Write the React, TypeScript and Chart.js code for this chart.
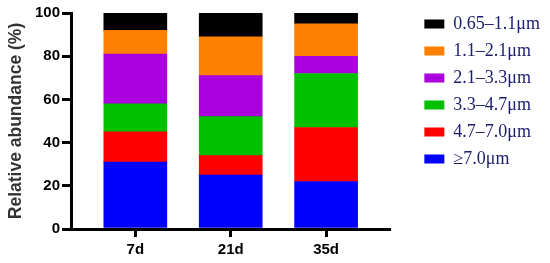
import React, { useEffect, useRef } from "react";
import { Chart, registerables } from "chart.js";

Chart.register(...registerables);

const categories = ["7d", "21d", "35d"];
const seriesLabels = ["≥7.0μm", "4.7–7.0μm", "3.3–4.7μm", "2.1–3.3μm", "1.1–2.1μm", "0.65–1.1μm"];
const seriesColors = ["#0000ff", "#ff0000", "#00c000", "#aa00dd", "#ff8000", "#000000"];
const s7 = [31, 14, 13, 23, 11, 8];
const s21 = [25, 9, 18, 19, 18, 11];
const s35 = [22, 25, 25, 8, 15, 5];
const byCategory = [s7, s21, s35];
const yTicks = [0, 20, 40, 60, 80, 100];

export default function App() {
  const ref = useRef<HTMLCanvasElement>(null);
  useEffect(() => {
    const sans = "'Liberation Sans', Arial, sans-serif";
    const serif = "'Liberation Serif', 'Times New Roman', serif";
    const datasets = seriesLabels.map((label, s) => ({
      label,
      backgroundColor: seriesColors[s],
      borderWidth: 0,
      barThickness: 63,
      data: categories.map((_, i) => ({ x: i + 1, y: byCategory[i][s] })),
    }));
    const chart = new Chart(ref.current!, {
      type: "bar",
      data: { datasets },
      options: {
        animation: false,
        responsive: false,
        layout: { padding: { top: 6, right: 0, left: 6, bottom: 0 } },
        plugins: {
          tooltip: { enabled: false },
          legend: {
            position: "right",
            align: "start",
            reverse: true,
            labels: {
              boxWidth: 20,
              boxHeight: 9,
              padding: 9,
              color: "#1c1c6e",
              font: { family: serif, size: 18 },
            },
          },
        },
        scales: {
          x: {
            type: "linear",
            stacked: true,
            offset: false,
            bounds: "data",
            min: 0.326,
            max: 3.663,
            afterBuildTicks: (scale: any) => {
              scale.ticks = categories.map((_, i) => ({ value: i + 1 }));
            },
            ticks: {
              callback: (v: any) => categories[Math.round(v) - 1] ?? "",
              color: "#000",
              font: { family: sans, size: 15, weight: "bold" },
              padding: 4,
              maxRotation: 0,
            },
            grid: { offset: false, drawOnChartArea: false, drawTicks: true, tickLength: 8, color: "#000", lineWidth: 3 },
            border: { color: "#000", width: 3 },
          },
          y: {
            stacked: true,
            min: 0,
            max: 100,
            afterBuildTicks: (scale: any) => {
              scale.ticks = yTicks.map((v) => ({ value: v }));
            },
            ticks: {
              color: "#000",
              font: { family: sans, size: 15, weight: "bold", lineHeight: 1.47 },
              padding: 2,
            },
            grid: { drawOnChartArea: false, drawTicks: true, tickLength: 9, color: "#000", lineWidth: 3 },
            border: { color: "#000", width: 3 },
            title: {
              display: true,
              text: "Relative abundance (%)",
              color: "#333",
              font: { family: sans, size: 17.5, weight: "bold" },
              padding: { top: 0, bottom: 6 },
            },
          },
          gap: {
            type: "linear",
            position: "right",
            display: false,
            afterFit: (s: any) => {
              s.width = 26;
            },
          },
        },
      } as any,
    });
    return () => chart.destroy();
  }, []);
  return (
    <div style={{ position: "absolute", left: 0, top: 0, width: 550, height: 263 }}>
      <canvas ref={ref} width={550} height={263} />
    </div>
  );
}
